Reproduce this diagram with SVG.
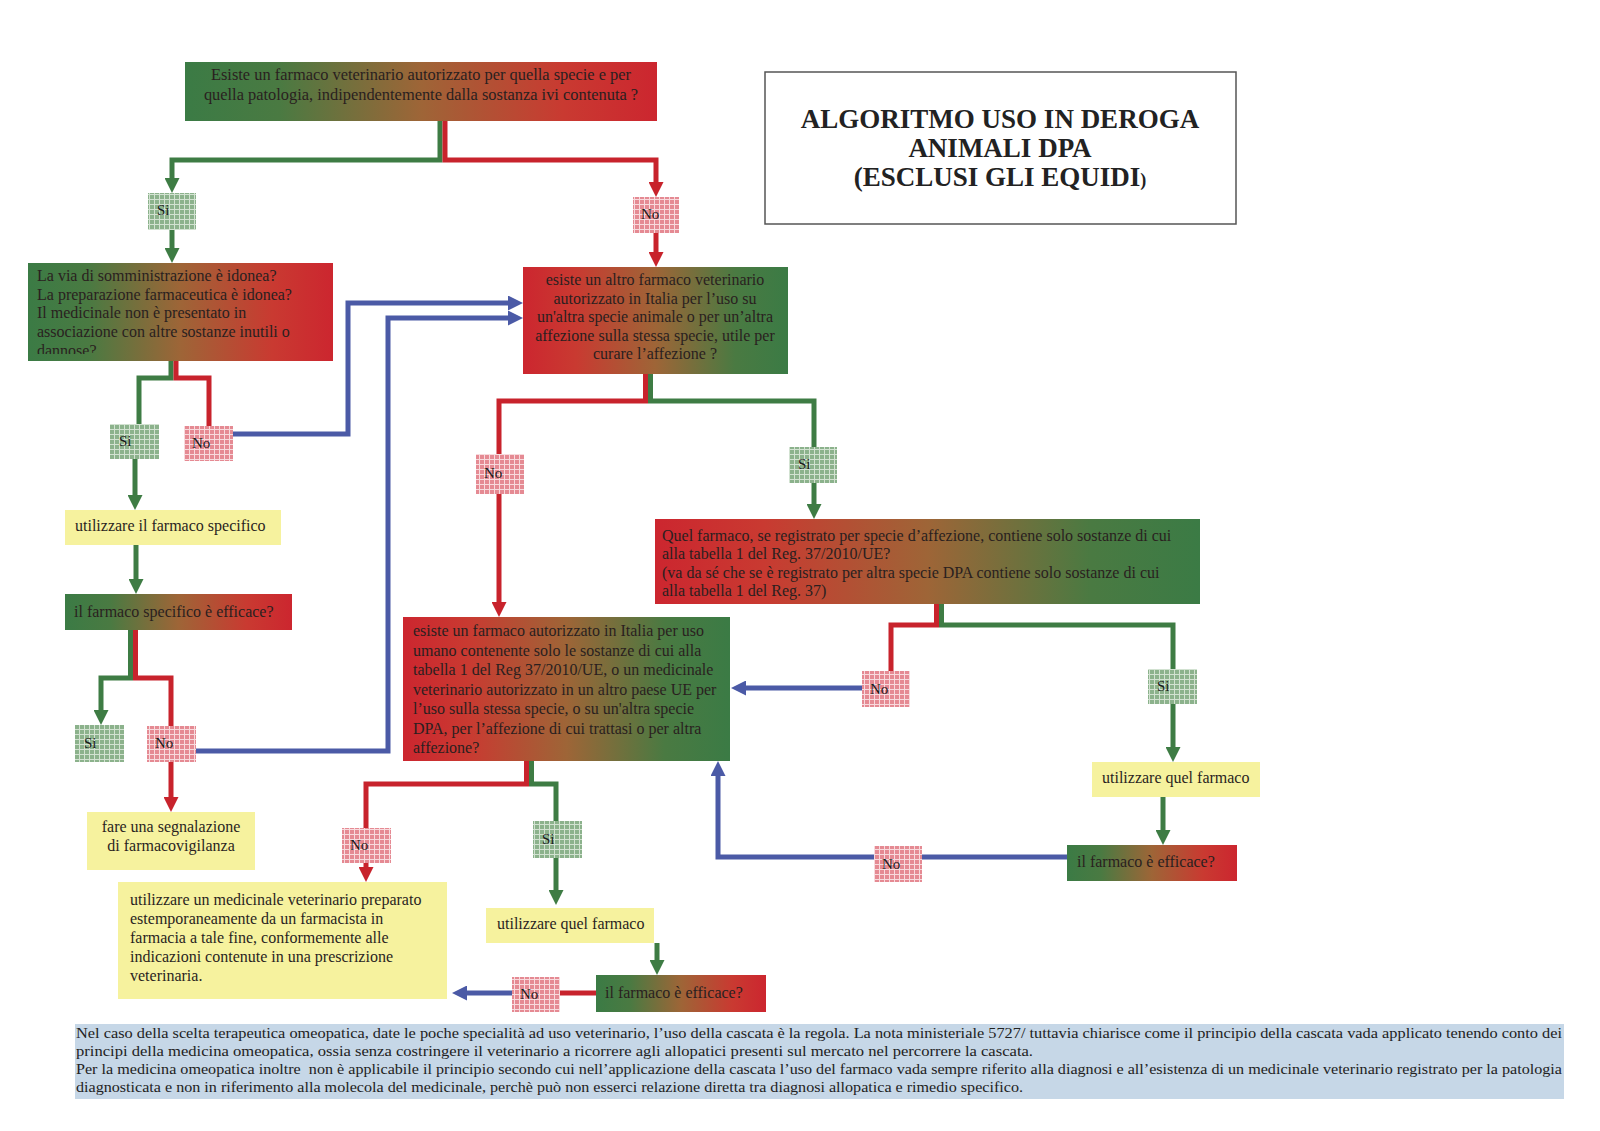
<svg xmlns="http://www.w3.org/2000/svg" width="1600" height="1131" viewBox="0 0 1600 1131">
<style>
.t{font-family:"Liberation Serif","Times New Roman",serif;font-size:16px;fill:#2a1f1f}
.t2{font-size:16.4px}
.m{text-anchor:middle}
.lb{font-family:"Liberation Serif","Times New Roman",serif;font-size:15px;fill:#1a1a1a}
.ft{font-family:"Liberation Serif","Times New Roman",serif;font-size:14px;fill:#222}
.ttl{font-family:"Liberation Serif","Times New Roman",serif;font-size:27px;font-weight:bold;fill:#222;text-anchor:middle}
.c{fill:none;stroke-width:5;stroke-linejoin:miter}
.g{stroke:#3e7c44}.r{stroke:#c8232c}.b{stroke:#4b5aa6}
.y{fill:#f6f29e}
.gr{fill:url(#gGR)}.rg{fill:url(#gRG)}
.si{fill:url(#pSi)}.no{fill:url(#pNo)}
</style>
<defs>
<linearGradient id="gGR" x1="0" y1="0" x2="1" y2="0">
<stop offset="0" stop-color="#3b7b45"/><stop offset="0.2" stop-color="#4a7a42"/><stop offset="0.5" stop-color="#9e6537"/><stop offset="0.8" stop-color="#c93a31"/><stop offset="1" stop-color="#cc262f"/>
</linearGradient>
<linearGradient id="gRG" x1="0" y1="0" x2="1" y2="0">
<stop offset="0" stop-color="#cc262f"/><stop offset="0.2" stop-color="#c93a31"/><stop offset="0.5" stop-color="#9e6537"/><stop offset="0.8" stop-color="#4a7a42"/><stop offset="1" stop-color="#3b7b45"/>
</linearGradient>
<pattern id="pSi" width="5" height="5" patternUnits="userSpaceOnUse">
<rect width="5" height="5" fill="#d2e2d1"/><rect width="4" height="4" fill="#8cb28c"/>
</pattern>
<pattern id="pNo" width="5" height="5" patternUnits="userSpaceOnUse">
<rect width="5" height="5" fill="#f8dadd"/><rect width="4" height="4" fill="#e58a93"/>
</pattern>
<marker id="mg" viewBox="0 0 10 10" refX="2" refY="5" markerWidth="3" markerHeight="3" orient="auto"><path d="M0,0L10,5L0,10z" fill="#3e7c44"/></marker>
<marker id="mr" viewBox="0 0 10 10" refX="2" refY="5" markerWidth="3" markerHeight="3" orient="auto"><path d="M0,0L10,5L0,10z" fill="#c8232c"/></marker>
<marker id="mb" viewBox="0 0 10 10" refX="2" refY="5" markerWidth="3" markerHeight="3" orient="auto"><path d="M0,0L10,5L0,10z" fill="#4b5aa6"/></marker>
<clipPath id="cb2"><rect x="28" y="263" width="305" height="91"/></clipPath>
</defs>
<rect width="1600" height="1131" fill="#fff"/>

<g id="connectors">
<path class="c g" d="M440,121V160H172V181" marker-end="url(#mg)"/>
<path class="c r" d="M445,121V160H656V185" marker-end="url(#mr)"/>
<path class="c g" d="M172,230V251" marker-end="url(#mg)"/>
<path class="c r" d="M656,233V255" marker-end="url(#mr)"/>
<path class="c g" d="M171,361V378H139V424"/>
<path class="c r" d="M176,361V378H209V426"/>
<path class="c b" d="M233,434H348V303H511" marker-end="url(#mb)"/>
<path class="c b" d="M196,751H388V318H511" marker-end="url(#mb)"/>
<path class="c g" d="M135,459V498" marker-end="url(#mg)"/>
<path class="c g" d="M136,545V582" marker-end="url(#mg)"/>
<path class="c g" d="M130.5,630V678H101V713" marker-end="url(#mg)"/>
<path class="c r" d="M135.5,630V678H171V726"/>
<path class="c r" d="M171,762V800" marker-end="url(#mr)"/>
<path class="c r" d="M645.5,374V401H499V454"/>
<path class="c g" d="M650.5,374V401H814V447"/>
<path class="c r" d="M499,494V605" marker-end="url(#mr)"/>
<path class="c g" d="M814,483V507" marker-end="url(#mg)"/>
<path class="c r" d="M936.5,603V625H891V671"/>
<path class="c g" d="M941.5,603V625H1173V669"/>
<path class="c b" d="M862,688H743" marker-end="url(#mb)"/>
<path class="c g" d="M1173,704V750" marker-end="url(#mg)"/>
<path class="c g" d="M1163,797V833" marker-end="url(#mg)"/>
<path class="c b" d="M1067,857H922"/>
<path class="c b" d="M874,857H718V773" marker-end="url(#mb)"/>
<path class="c r" d="M526.5,761V784H366V828"/>
<path class="c g" d="M531.5,761V784H556V821"/>
<path class="c r" d="M366,863V870" marker-end="url(#mr)"/>
<path class="c g" d="M556,858V893" marker-end="url(#mg)"/>
<path class="c g" d="M657,943V963" marker-end="url(#mg)"/>
<path class="c r" d="M596,993H560"/>
<path class="c b" d="M512,993H464" marker-end="url(#mb)"/>
</g>

<g id="n-top"><rect class="gr" x="185" y="62" width="472" height="59"/>
<text class="t t2 m" x="421" y="80">Esiste un farmaco veterinario autorizzato per quella specie e per</text>
<text class="t t2 m" x="421" y="100">quella patologia, indipendentemente dalla sostanza ivi contenuta ?</text></g>

<g id="n-title"><rect x="765" y="72" width="471" height="152" fill="#fff" stroke="#555" stroke-width="1.5"/>
<text class="ttl" x="1000" y="128">ALGORITMO USO IN DEROGA</text>
<text class="ttl" x="1000" y="157">ANIMALI DPA</text>
<text class="ttl" x="1000" y="186">(ESCLUSI GLI EQUIDI<tspan style="font-size:18px">)</tspan></text></g>

<g id="n-si1"><rect class="si" x="148" y="193" width="48" height="37"/><text class="lb" x="157" y="215">Si</text></g>
<g id="n-no1"><rect class="no" x="633" y="197" width="46" height="36"/><text class="lb" x="641" y="219">No</text></g>

<g id="n-box2"><rect class="gr" x="28" y="263" width="305" height="98"/>
<g clip-path="url(#cb2)">
<text class="t" x="37" y="281">La via di somministrazione è idonea?</text>
<text class="t" x="37" y="299.7">La preparazione farmaceutica è idonea?</text>
<text class="t" x="37" y="318.4">Il medicinale non è presentato in</text>
<text class="t" x="37" y="337.1">associazione con altre sostanze inutili o</text>
<text class="t" x="37" y="356">dannose?</text></g></g>

<g id="n-box3"><rect class="rg" x="523" y="267" width="265" height="107"/>
<text class="t m" x="655" y="285">esiste un altro farmaco veterinario</text>
<text class="t m" x="655" y="303.5">autorizzato in Italia per l’uso su</text>
<text class="t m" x="655" y="322">un'altra specie animale o per un’altra</text>
<text class="t m" x="655" y="340.5">affezione sulla stessa specie, utile per</text>
<text class="t m" x="655" y="359">curare l’affezione ?</text></g>

<g id="n-si2"><rect class="si" x="110" y="424" width="49" height="35"/><text class="lb" x="119" y="446">Si</text></g>
<g id="n-no2"><rect class="no" x="184" y="426" width="49" height="35"/><text class="lb" x="192" y="448">No</text></g>

<g id="n-use1"><rect class="y" x="65" y="510" width="216" height="35"/><text class="t" x="75" y="531">utilizzare il farmaco specifico</text></g>
<g id="n-eff1"><rect class="gr" x="65" y="594" width="227" height="36"/><text class="t" x="74" y="617">il farmaco specifico è efficace?</text></g>

<g id="n-si3"><rect class="si" x="75" y="725" width="49" height="37"/><text class="lb" x="84" y="748">Si</text></g>
<g id="n-no3"><rect class="no" x="147" y="726" width="49" height="36"/><text class="lb" x="155" y="748">No</text></g>

<g id="n-fare"><rect class="y" x="87" y="812" width="168" height="58"/>
<text class="t m" x="171" y="832">fare una segnalazione</text>
<text class="t m" x="171" y="851">di farmacovigilanza</text></g>

<g id="n-no4"><rect class="no" x="476" y="454" width="48" height="40"/><text class="lb" x="484" y="478">No</text></g>
<g id="n-si4"><rect class="si" x="789" y="447" width="48" height="36"/><text class="lb" x="798" y="469">Si</text></g>

<g id="n-boxR"><rect class="rg" x="655" y="519" width="545" height="85"/>
<text class="t" x="662" y="541">Quel farmaco, se registrato per specie d’affezione, contiene solo sostanze di cui</text>
<text class="t" x="662" y="559">alla tabella 1 del Reg. 37/2010/UE?</text>
<text class="t" x="662" y="578">(va da sé che se è registrato per altra specie DPA contiene solo sostanze di cui</text>
<text class="t" x="662" y="596">alla tabella 1 del Reg. 37)</text></g>

<g id="n-box5"><rect class="rg" x="403" y="617" width="327" height="144"/>
<text class="t" x="413" y="636">esiste un farmaco autorizzato in Italia per uso</text>
<text class="t" x="413" y="655.5">umano contenente solo le sostanze di cui alla</text>
<text class="t" x="413" y="675">tabella 1 del Reg 37/2010/UE, o un medicinale</text>
<text class="t" x="413" y="694.5">veterinario autorizzato in un altro paese UE per</text>
<text class="t" x="413" y="714">l’uso sulla stessa specie, o su un'altra specie</text>
<text class="t" x="413" y="733.5">DPA, per l’affezione di cui trattasi o per altra</text>
<text class="t" x="413" y="753">affezione?</text></g>

<g id="n-no5"><rect class="no" x="862" y="671" width="48" height="36"/><text class="lb" x="870" y="694">No</text></g>
<g id="n-si5"><rect class="si" x="1148" y="669" width="49" height="35"/><text class="lb" x="1157" y="691">Si</text></g>
<g id="n-useR"><rect class="y" x="1092" y="762" width="168" height="35"/><text class="t" x="1102" y="783">utilizzare quel farmaco</text></g>
<g id="n-effR"><rect class="gr" x="1067" y="845" width="170" height="36"/><text class="t" x="1077" y="867">il farmaco è efficace?</text></g>
<g id="n-no6"><rect class="no" x="874" y="846" width="48" height="36"/><text class="lb" x="882" y="869">No</text></g>

<g id="n-no7"><rect class="no" x="342" y="828" width="49" height="35"/><text class="lb" x="350" y="850">No</text></g>
<g id="n-si7"><rect class="si" x="533" y="821" width="49" height="37"/><text class="lb" x="542" y="844">Si</text></g>

<g id="n-useBig"><rect class="y" x="118" y="882" width="329" height="117"/>
<text class="t" x="130" y="905">utilizzare un medicinale veterinario preparato</text>
<text class="t" x="130" y="924">estemporaneamente da un farmacista in</text>
<text class="t" x="130" y="943">farmacia a tale fine, conformemente alle</text>
<text class="t" x="130" y="962">indicazioni contenute in una prescrizione</text>
<text class="t" x="130" y="981">veterinaria.</text></g>

<g id="n-useM"><rect class="y" x="486" y="908" width="168" height="35"/><text class="t" x="497" y="929">utilizzare quel farmaco</text></g>
<g id="n-effB"><rect class="gr" x="596" y="975" width="170" height="37"/><text class="t" x="605" y="998">il farmaco è efficace?</text></g>
<g id="n-no8"><rect class="no" x="512" y="977" width="48" height="35"/><text class="lb" x="520" y="999">No</text></g>

<g id="n-footer"><rect x="75" y="1024" width="1489" height="75" fill="#c6d7e7"/>
<text class="ft" x="76" y="1038" textLength="1486" lengthAdjust="spacingAndGlyphs">Nel caso della scelta terapeutica omeopatica, date le poche specialità ad uso veterinario, l’uso della cascata è la regola. La nota ministeriale 5727/ tuttavia chiarisce come il principio della cascata vada applicato tenendo conto dei</text>
<text class="ft" x="76" y="1056" textLength="957" lengthAdjust="spacingAndGlyphs">principi della medicina omeopatica, ossia senza costringere il veterinario a ricorrere agli allopatici presenti sul mercato nel percorrere la cascata.</text>
<text class="ft" x="76" y="1074" textLength="1486" lengthAdjust="spacingAndGlyphs" xml:space="preserve">Per la medicina omeopatica inoltre  non è applicabile il principio secondo cui nell’applicazione della cascata l’uso del farmaco vada sempre riferito alla diagnosi e all’esistenza di un medicinale veterinario registrato per la patologia</text>
<text class="ft" x="76" y="1092" textLength="947" lengthAdjust="spacingAndGlyphs">diagnosticata e non in riferimento alla molecola del medicinale, perchè può non esserci relazione diretta tra diagnosi allopatica e rimedio specifico.</text></g>
</svg>
